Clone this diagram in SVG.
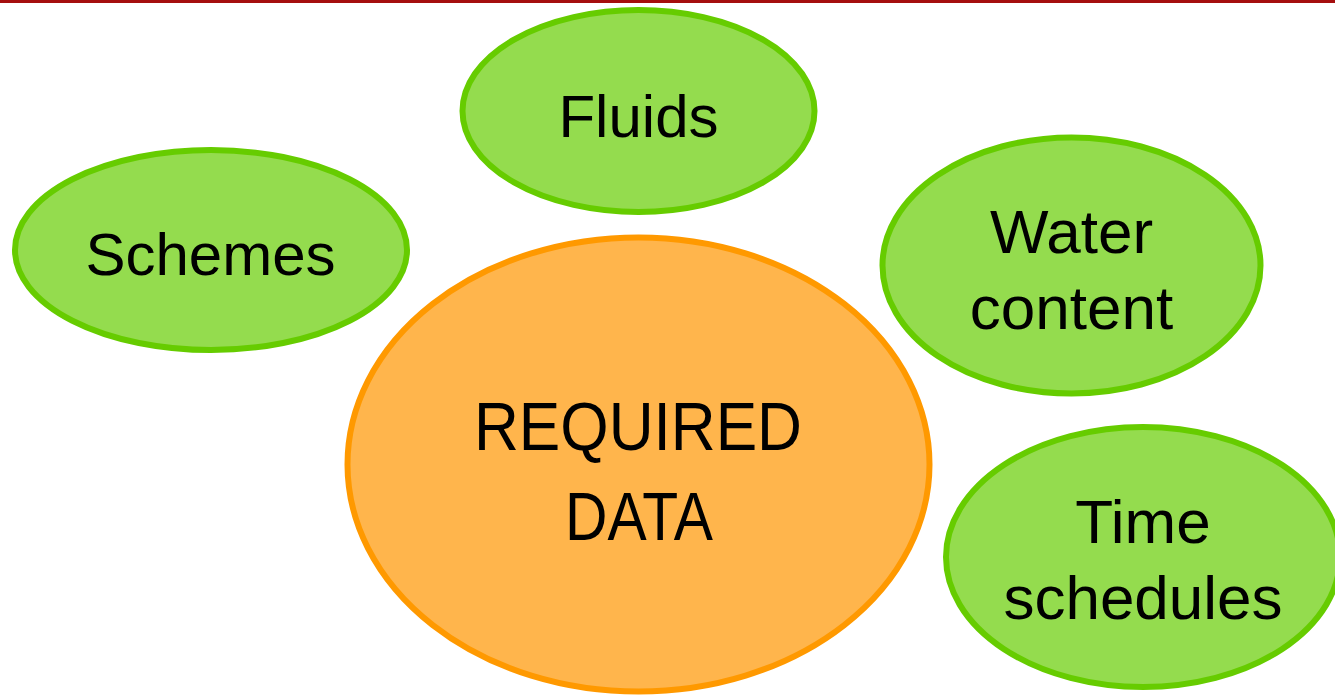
<svg xmlns="http://www.w3.org/2000/svg" width="1335" height="695" viewBox="0 0 1335 695">
<style>
.green{fill:#94DC4E;stroke:#66CC00;stroke-width:6}
.orange{fill:#FFB54C;stroke:#FF9900;stroke-width:6}
.lbl{font-family:"Liberation Sans",Arial,sans-serif;font-size:60px;fill:#000;text-anchor:middle}
.lbl2{font-family:"Liberation Sans",Arial,sans-serif;font-size:62px;fill:#000;text-anchor:middle}
.big{font-family:"Liberation Sans",Arial,sans-serif;font-size:68px;fill:#000;text-anchor:middle}
</style>
<rect x="0" y="0" width="1335" height="695" fill="#fff"/>
<rect x="0" y="0" width="1335" height="3" fill="#A50E0E"/>
<g id="connectors"/>
<g id="node-fluids">
<ellipse class="green" cx="638.5" cy="111" rx="176" ry="101"/>
<text class="lbl" x="638.5" y="137">Fluids</text>
</g>
<g id="node-schemes">
<ellipse class="green" cx="211" cy="250" rx="196" ry="100"/>
<text class="lbl" x="210.5" y="275">Schemes</text>
</g>
<g id="node-water">
<ellipse class="green" cx="1071.5" cy="265.5" rx="189" ry="128"/>
<text class="lbl2" x="1071.5" y="253">Water</text>
<text class="lbl2" x="1071.5" y="329">content</text>
</g>
<g id="node-time">
<ellipse class="green" cx="1143" cy="557" rx="197" ry="130"/>
<text class="lbl2" x="1143" y="543">Time</text>
<text class="lbl2" x="1143" y="619">schedules</text>
</g>
<g id="node-required">
<ellipse class="orange" cx="638.5" cy="464.5" rx="291" ry="227"/>
<text class="big" x="638" y="450" textLength="328" lengthAdjust="spacingAndGlyphs">REQUIRED</text>
<text class="big" x="639" y="540" textLength="148" lengthAdjust="spacingAndGlyphs">DATA</text>
</g>
</svg>
